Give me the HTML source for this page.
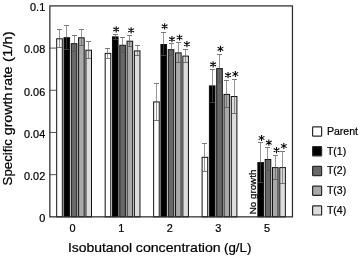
<!DOCTYPE html>
<html><head><meta charset="utf-8"><title>chart</title>
<style>html,body{margin:0;padding:0;background:#fff;overflow:hidden}svg{display:block;will-change:transform}</style>
</head><body>
<svg width="360" height="257" viewBox="0 0 360 257">
<rect width="360" height="257" fill="#fff"/>
<g stroke="#444" stroke-width="0.9">
<line x1="49.85" y1="48.09" x2="56.35" y2="48.09"/>
<line x1="49.85" y1="90.28" x2="56.35" y2="90.28"/>
<line x1="49.85" y1="132.47" x2="56.35" y2="132.47"/>
<line x1="49.85" y1="174.66" x2="56.35" y2="174.66"/>
</g>
<g stroke="#111" stroke-width="1">
<rect x="56.70" y="38.80" width="5.60" height="178.05" fill="#ffffff"/>
<rect x="64.00" y="37.70" width="5.60" height="179.15" fill="#000000"/>
<rect x="71.30" y="43.70" width="5.60" height="173.15" fill="#686868"/>
<rect x="78.60" y="37.80" width="5.60" height="179.05" fill="#a9a9a9"/>
<rect x="85.90" y="50.20" width="5.60" height="166.65" fill="#dcdcdc"/>
<rect x="105.17" y="53.40" width="5.60" height="163.45" fill="#ffffff"/>
<rect x="112.47" y="36.90" width="5.60" height="179.95" fill="#000000"/>
<rect x="119.77" y="45.30" width="5.60" height="171.55" fill="#686868"/>
<rect x="127.07" y="41.20" width="5.60" height="175.65" fill="#a9a9a9"/>
<rect x="134.37" y="50.90" width="5.60" height="165.95" fill="#dcdcdc"/>
<rect x="153.64" y="101.90" width="5.60" height="114.95" fill="#ffffff"/>
<rect x="160.94" y="44.50" width="5.60" height="172.35" fill="#000000"/>
<rect x="168.24" y="49.70" width="5.60" height="167.15" fill="#686868"/>
<rect x="175.54" y="52.90" width="5.60" height="163.95" fill="#a9a9a9"/>
<rect x="182.84" y="56.10" width="5.60" height="160.75" fill="#dcdcdc"/>
<rect x="202.11" y="157.30" width="5.60" height="59.55" fill="#ffffff"/>
<rect x="209.41" y="85.90" width="5.60" height="130.95" fill="#000000"/>
<rect x="216.71" y="68.60" width="5.60" height="148.25" fill="#686868"/>
<rect x="224.01" y="94.40" width="5.60" height="122.45" fill="#a9a9a9"/>
<rect x="231.31" y="96.50" width="5.60" height="120.35" fill="#dcdcdc"/>
<rect x="257.88" y="162.60" width="5.60" height="54.25" fill="#000000"/>
<rect x="265.18" y="159.50" width="5.60" height="57.35" fill="#686868"/>
<rect x="272.48" y="167.60" width="5.60" height="49.25" fill="#a9a9a9"/>
<rect x="279.78" y="167.60" width="5.60" height="49.25" fill="#dcdcdc"/>
</g>
<g stroke="#535353" stroke-opacity="0.77" stroke-width="1" fill="none">
<path stroke-width="0.8" d="M59.50 30.00V47.00"/><path d="M57.00 29.50h5M57.00 47.50h5"/>
<path stroke-width="0.8" d="M66.50 26.00V49.00"/><path d="M64.00 25.50h5M64.00 49.50h5"/>
<path stroke-width="0.8" d="M74.50 36.00V51.00"/><path d="M72.00 35.50h5M72.00 51.50h5"/>
<path stroke-width="0.8" d="M81.50 30.00V45.00"/><path d="M79.00 29.50h5M79.00 45.50h5"/>
<path stroke-width="0.8" d="M88.50 42.00V58.00"/><path d="M86.00 41.50h5M86.00 58.50h5"/>
<path stroke-width="0.8" d="M107.50 49.00V58.00"/><path d="M105.00 48.50h5M105.00 58.50h5"/>
<path stroke-width="0.8" d="M115.50 35.00V39.00"/><path d="M113.00 34.50h5M113.00 39.50h5"/>
<path stroke-width="0.8" d="M122.50 38.00V52.00"/><path d="M120.00 37.50h5M120.00 52.50h5"/>
<path stroke-width="0.8" d="M129.50 36.00V46.00"/><path d="M127.00 35.50h5M127.00 46.50h5"/>
<path stroke-width="0.8" d="M137.50 46.00V55.00"/><path d="M135.00 45.50h5M135.00 55.50h5"/>
<path stroke-width="0.8" d="M156.50 84.00V120.00"/><path d="M154.00 83.50h5M154.00 120.50h5"/>
<path stroke-width="0.8" d="M163.50 33.00V55.00"/><path d="M161.00 32.50h5M161.00 55.50h5"/>
<path stroke-width="0.8" d="M171.50 44.00V55.00"/><path d="M169.00 43.50h5M169.00 55.50h5"/>
<path stroke-width="0.8" d="M178.50 43.00V62.00"/><path d="M176.00 42.50h5M176.00 62.50h5"/>
<path stroke-width="0.8" d="M185.50 50.00V62.00"/><path d="M183.00 49.50h5M183.00 62.50h5"/>
<path stroke-width="0.8" d="M204.50 144.00V171.00"/><path d="M202.00 143.50h5M202.00 171.50h5"/>
<path stroke-width="0.8" d="M212.50 70.00V102.00"/><path d="M210.00 69.50h5M210.00 102.50h5"/>
<path stroke-width="0.8" d="M219.50 55.00V82.00"/><path d="M217.00 54.50h5M217.00 82.50h5"/>
<path stroke-width="0.8" d="M226.50 81.00V107.00"/><path d="M224.00 80.50h5M224.00 107.50h5"/>
<path stroke-width="0.8" d="M234.50 80.00V113.00"/><path d="M232.00 79.50h5M232.00 113.50h5"/>
<path stroke-width="0.8" d="M260.50 143.00V182.00"/><path d="M258.00 142.50h5M258.00 182.50h5"/>
<path stroke-width="0.8" d="M267.50 148.00V170.00"/><path d="M265.00 147.50h5M265.00 170.50h5"/>
<path stroke-width="0.8" d="M275.50 156.00V179.00"/><path d="M273.00 155.50h5M273.00 179.50h5"/>
<path stroke-width="0.8" d="M282.50 152.00V183.00"/><path d="M280.00 151.50h5M280.00 183.50h5"/>
</g>
<g stroke="#000" stroke-width="1.05" stroke-linecap="butt">
<path d="M116.17 26.30V32.50M113.31 27.75L119.03 31.05M119.03 27.75L113.31 31.05"/>
<path d="M131.12 27.20V33.40M128.26 28.65L133.98 31.95M133.98 28.65L128.26 31.95"/>
<path d="M164.64 23.30V29.50M161.78 24.75L167.50 28.05M167.50 24.75L161.78 28.05"/>
<path d="M171.94 36.10V42.30M169.08 37.55L174.80 40.85M174.80 37.55L169.08 40.85"/>
<path d="M179.59 34.40V40.60M176.73 35.85L182.45 39.15M182.45 35.85L176.73 39.15"/>
<path d="M186.89 41.10V47.30M184.03 42.55L189.75 45.85M189.75 42.55L184.03 45.85"/>
<path d="M213.11 61.30V67.50M210.25 62.75L215.97 66.05M215.97 62.75L210.25 66.05"/>
<path d="M220.41 45.70V51.90M217.55 47.15L223.27 50.45M223.27 47.15L217.55 50.45"/>
<path d="M228.06 72.00V78.20M225.20 73.45L230.92 76.75M230.92 73.45L225.20 76.75"/>
<path d="M235.36 70.90V77.10M232.50 72.35L238.22 75.65M238.22 72.35L232.50 75.65"/>
<path d="M261.58 134.90V141.10M258.72 136.35L264.44 139.65M264.44 136.35L258.72 139.65"/>
<path d="M268.88 139.60V145.80M266.02 141.05L271.74 144.35M271.74 141.05L266.02 144.35"/>
<path d="M276.53 147.00V153.20M273.67 148.45L279.39 151.75M279.39 148.45L273.67 151.75"/>
<path d="M283.83 142.90V149.10M280.97 144.35L286.69 147.65M286.69 144.35L280.97 147.65"/>
</g>
<rect x="49.85" y="5.9" width="242.6" height="210.95" fill="none" stroke="#2e2e2e" stroke-width="1.25"/>
<g font-family="Liberation Sans, sans-serif" fill="#000" stroke="#000" stroke-width="0.22">
<text transform="translate(45.20 11.30) scale(0.9900 1)" font-size="11" text-anchor="end">0.1</text>
<text transform="translate(45.20 53.49) scale(0.9900 1)" font-size="11" text-anchor="end">0.08</text>
<text transform="translate(45.20 95.68) scale(0.9900 1)" font-size="11" text-anchor="end">0.06</text>
<text transform="translate(45.20 137.87) scale(0.9900 1)" font-size="11" text-anchor="end">0.04</text>
<text transform="translate(45.20 180.06) scale(0.9900 1)" font-size="11" text-anchor="end">0.02</text>
<text transform="translate(45.20 222.25) scale(0.9900 1)" font-size="11" text-anchor="end">0</text>
<text transform="translate(72.60 231.75) scale(1.0000 1)" font-size="10.9" text-anchor="middle">0</text>
<text transform="translate(121.20 231.75) scale(1.0000 1)" font-size="10.9" text-anchor="middle">1</text>
<text transform="translate(169.80 231.75) scale(1.0000 1)" font-size="10.9" text-anchor="middle">2</text>
<text transform="translate(218.40 231.75) scale(1.0000 1)" font-size="10.9" text-anchor="middle">3</text>
<text transform="translate(267.00 231.75) scale(1.0000 1)" font-size="10.9" text-anchor="middle">5</text>
<text transform="translate(67.91 251.75) scale(1.0399 1)" font-size="13.4">Isobutanol</text>
<text transform="translate(135.81 251.75) scale(1.0564 1)" font-size="13.4">concentration</text>
<text transform="translate(223.98 251.75) scale(0.9950 1)" font-size="13.4">(g/L)</text>
<g transform="translate(12.0 185.0) rotate(-90)">
<text transform="translate(-0.41 0.00) scale(0.9894 1)" font-size="13.4">Specific</text>
<text transform="translate(49.76 0.00) scale(1.0577 1)" font-size="13.4">growth</text>
<text transform="translate(94.53 0.00) scale(1.0410 1)" font-size="13.4">rate</text>
<text transform="translate(123.00 0.00) scale(1.1170 1)" font-size="13.4">(1/h)</text>
</g>
<g transform="translate(255.5 213.5) rotate(-90)">
<text transform="translate(-0.77 0.00) scale(1.1150 1)" font-size="8.8">No growth</text>
</g>
<rect x="312.6" y="126.90" width="9" height="9.2" rx="0.6" fill="#ffffff" stroke="#2a2a2a" stroke-width="1.2"/>
<text transform="translate(326.90 135.00) scale(0.9450 1)" font-size="11.2">Parent</text>
<rect x="312.6" y="146.63" width="9" height="9.2" rx="0.6" fill="#000000" stroke="#2a2a2a" stroke-width="1.2"/>
<text transform="translate(326.90 154.73) scale(0.9450 1)" font-size="11.2">T(1)</text>
<rect x="312.6" y="166.36" width="9" height="9.2" rx="0.6" fill="#686868" stroke="#2a2a2a" stroke-width="1.2"/>
<text transform="translate(326.90 174.46) scale(0.9450 1)" font-size="11.2">T(2)</text>
<rect x="312.6" y="186.09" width="9" height="9.2" rx="0.6" fill="#a9a9a9" stroke="#2a2a2a" stroke-width="1.2"/>
<text transform="translate(326.90 194.19) scale(0.9450 1)" font-size="11.2">T(3)</text>
<rect x="312.6" y="205.82" width="9" height="9.2" rx="0.6" fill="#dcdcdc" stroke="#2a2a2a" stroke-width="1.2"/>
<text transform="translate(326.90 213.92) scale(0.9450 1)" font-size="11.2">T(4)</text>
</g>
</svg>
</body></html>
